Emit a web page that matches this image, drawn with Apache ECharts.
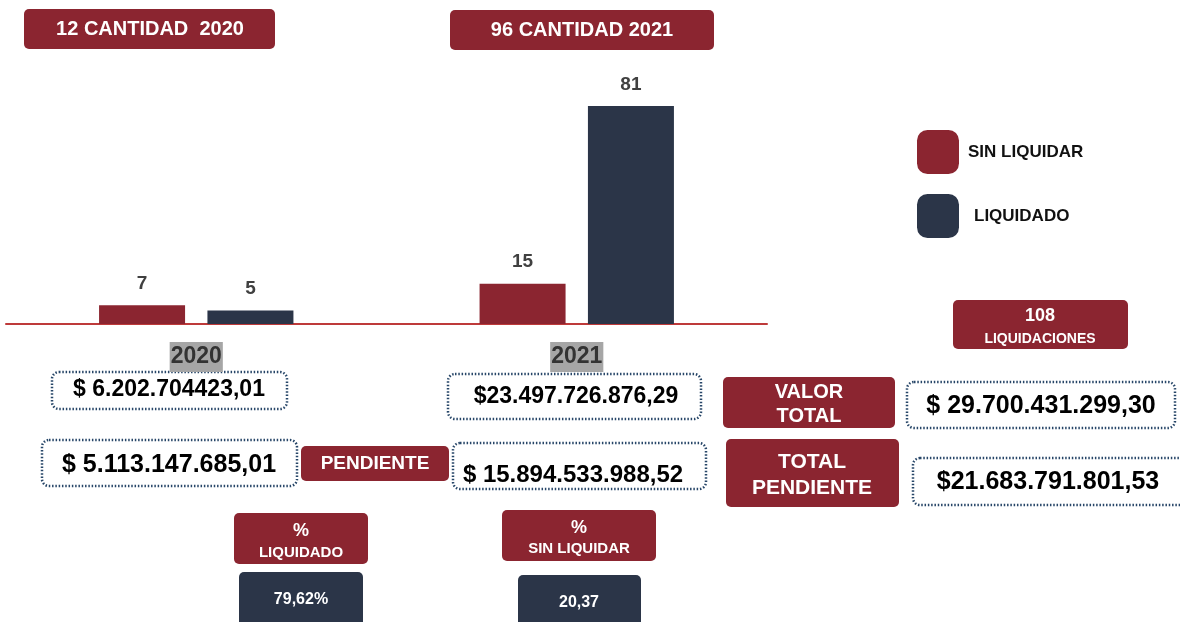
<!DOCTYPE html>
<html>
<head>
<meta charset="utf-8">
<script src="https://cdn.jsdelivr.net/npm/echarts@6/dist/echarts.min.js"></script>
<style>
  html, body { margin: 0; padding: 0; background: #fff; }
  #chart { width: 1180px; height: 622px; }
</style>
</head>
<body>
<div id="chart"></div>
<script>
// datos
var anios = ['2020', '2021'];
var sinLiquidar = [7, 15];
var liquidado = [5, 81];

var ROJO = '#8B2530';
var AZUL = '#2B3548';
var FUENTE = 'Arial, "Liberation Sans", sans-serif';

function caja(x, y, w, h, color) {
    return { type: 'rect', shape: { x: x, y: y, width: w, height: h, r: 5 }, style: { fill: color } };
}
function cajaPunteada(x, y, w, h) {
    return {
        type: 'rect',
        shape: { x: x, y: y, width: w, height: h, r: 7 },
        style: { fill: '#fff', stroke: '#274668', lineWidth: 2.5, lineDash: [1.5, 1.8] }
    };
}
function texto(x, y, s, size, color) {
    return {
        type: 'text', x: x, y: y, z: 10,
        style: {
            text: s, fill: color || '#fff', font: 'bold ' + size + 'px ' + FUENTE,
            textAlign: 'center', textVerticalAlign: 'middle', align: 'center', verticalAlign: 'middle'
        }
    };
}

var chart = echarts.init(document.getElementById('chart'));
chart.setOption({
    animation: false,
    grid: { left: 6, right: 413, top: 55, bottom: 298 },
    legend: {
        orient: 'vertical',
        left: 917,
        top: 130,
        padding: 0,
        itemWidth: 42,
        itemHeight: 44,
        itemGap: 20,
        icon: 'roundRect',
        data: [
            { name: 'SIN LIQUIDAR', textStyle: { padding: [0, 0, 0, 4] } },
            { name: 'LIQUIDADO', textStyle: { padding: [0, 0, 0, 10] } }
        ],
        textStyle: { color: '#111', fontSize: 17, fontWeight: 'bold', fontFamily: FUENTE }
    },
    xAxis: {
        type: 'category',
        data: anios,
        axisLine: { lineStyle: { color: '#BE3A3A', width: 2 } },
        axisTick: { show: false },
        axisLabel: {
            margin: 18,
            fontSize: 23,
            fontWeight: 'bold',
            color: '#333',
            fontFamily: FUENTE,
            backgroundColor: '#A6A6A6',
            padding: [3, 1, 4, 1]
        }
    },
    yAxis: { type: 'value', min: 0, max: 100, show: false, splitLine: { show: false } },
    series: [
        {
            name: 'SIN LIQUIDAR',
            type: 'bar',
            data: sinLiquidar,
            barWidth: 86,
            barGap: '26%',
            itemStyle: { color: ROJO },
            label: { show: true, position: 'top', distance: 12, color: '#404040', fontSize: 19, fontWeight: 'bold', fontFamily: FUENTE }
        },
        {
            name: 'LIQUIDADO',
            type: 'bar',
            data: liquidado,
            barWidth: 86,
            itemStyle: { color: AZUL },
            label: { show: true, position: 'top', distance: 12, color: '#404040', fontSize: 19, fontWeight: 'bold', fontFamily: FUENTE }
        }
    ],
    graphic: [
        caja(24, 9, 251, 40, ROJO), texto(150, 29, '12 CANTIDAD  2020', 20),
        caja(450, 10, 264, 40, ROJO), texto(582, 30, '96 CANTIDAD 2021', 20),
        caja(953, 300, 175, 49, ROJO), texto(1040, 316, '108', 18), texto(1040, 339, 'LIQUIDACIONES', 14),

        cajaPunteada(52, 372, 235, 37), texto(169, 390, '$ 6.202.704423,01', 23, '#000'),
        cajaPunteada(42, 440, 255, 46), texto(169, 465, '$ 5.113.147.685,01', 25, '#000'),
        caja(301, 446, 148, 35, ROJO), texto(375, 464, 'PENDIENTE', 19),

        cajaPunteada(448, 374, 253, 45), texto(576, 397, '$23.497.726.876,29', 23, '#000'),
        cajaPunteada(453, 443, 253, 46), texto(573, 475, '$ 15.894.533.988,52', 24, '#000'),

        caja(723, 377, 172, 51, ROJO), texto(809, 392, 'VALOR', 20), texto(809, 416, 'TOTAL', 20),
        caja(726, 439, 173, 68, ROJO), texto(812, 462, 'TOTAL', 21), texto(812, 488, 'PENDIENTE', 21),

        cajaPunteada(907, 382, 268, 46), texto(1041, 406, '$ 29.700.431.299,30', 25, '#000'),
        cajaPunteada(913, 458, 280, 47), texto(1048, 482, '$21.683.791.801,53', 25, '#000'),

        caja(234, 513, 134, 51, ROJO), texto(301, 531, '%', 18), texto(301, 553, 'LIQUIDADO', 15),
        caja(239, 572, 124, 60, AZUL), texto(301, 600, '79,62%', 16),
        caja(502, 510, 154, 51, ROJO), texto(579, 528, '%', 18), texto(579, 549, 'SIN LIQUIDAR', 15),
        caja(518, 575, 123, 57, AZUL), texto(579, 603, '20,37', 16)
    ]
});

window.addEventListener('resize', function () {
    chart.resize();
});
</script>
</body>
</html>
